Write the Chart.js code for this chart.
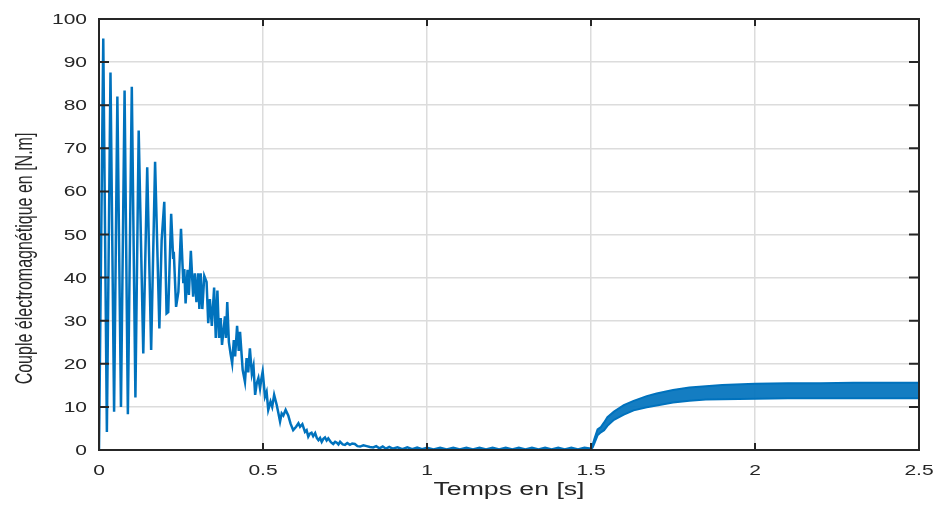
<!DOCTYPE html>
<html>
<head>
<meta charset="utf-8">
<script src="https://cdn.jsdelivr.net/npm/chart.js@4"></script>
<style>
  html, body { margin: 0; padding: 0; background: #fff; }
  #wrap { width: 939px; height: 507px; }
</style>
</head>
<body>
<div id="wrap"><canvas id="torqueChart"></canvas></div>
<script>
// ===== Data =====

// transient and decay, 0 .. 1.5 s
const timeMain = [
  0, 0.013, 0.024, 0.035, 0.046, 0.056, 0.067, 0.078, 0.088, 0.100,
  0.111, 0.121, 0.135, 0.147, 0.159, 0.171, 0.184, 0.191, 0.199, 0.206,
  0.211, 0.220, 0.226, 0.228, 0.235, 0.242, 0.250, 0.257, 0.260, 0.264,
  0.270, 0.274, 0.280, 0.287, 0.292, 0.297, 0.302, 0.306, 0.310, 0.315,
  0.321, 0.328, 0.333, 0.338, 0.344, 0.351, 0.356, 0.361, 0.366, 0.371,
  0.375, 0.384, 0.387, 0.391, 0.396, 0.401, 0.406, 0.411, 0.415, 0.421,
  0.426, 0.430, 0.438, 0.445, 0.450, 0.455, 0.460, 0.466, 0.471, 0.476,
  0.481, 0.486, 0.491, 0.495, 0.499, 0.506, 0.511, 0.516, 0.523, 0.528,
  0.534, 0.542, 0.547, 0.552, 0.557, 0.562, 0.569, 0.577, 0.584, 0.592,
  0.601, 0.608, 0.613, 0.620, 0.628, 0.633, 0.638, 0.643, 0.648, 0.653,
  0.659, 0.664, 0.669, 0.674, 0.679, 0.684, 0.689, 0.694, 0.699, 0.707,
  0.714, 0.720, 0.725, 0.730, 0.735, 0.743, 0.750, 0.757, 0.765, 0.772,
  0.780, 0.788, 0.796, 0.806, 0.816, 0.826, 0.836, 0.845, 0.855, 0.865,
  0.875, 0.885, 0.895, 0.910, 0.925, 0.940, 0.955, 0.970, 0.985, 1.000,
  1.02, 1.04, 1.06, 1.08, 1.10, 1.12, 1.14, 1.16, 1.18, 1.20,
  1.22, 1.24, 1.26, 1.28, 1.30, 1.32, 1.34, 1.36, 1.38, 1.40,
  1.42, 1.44, 1.46, 1.48, 1.50
];
const torqueMain = [
  0, 95.5, 4.2, 87.6, 8.9, 82.0, 10.0, 83.4, 8.3, 84.3,
  12.2, 74.1, 22.4, 65.6, 23.2, 66.9, 28.2, 48.7, 57.6, 31.7,
  32.0, 54.8, 44.6, 46.0, 33.2, 36.7, 51.3, 38.7, 42.0, 34.0,
  41.8, 36.0, 46.2, 35.6, 41.0, 34.3, 41.0, 32.7, 41.0, 32.7,
  40.4, 39.0, 29.4, 35.0, 28.8, 37.7, 26.0, 37.0, 26.0, 30.6,
  24.4, 31.0, 26.0, 34.3, 25.0, 22.4, 20.1, 25.5, 21.7, 28.8,
  23.0, 27.4, 18.6, 15.8, 21.3, 18.0, 23.6, 17.7, 19.5, 12.8,
  15.5, 16.7, 14.3, 16.5, 18.2, 12.4, 13.5, 9.3, 11.2, 10.0,
  12.8, 10.4, 8.5, 6.6, 8.5, 8.0, 9.3, 8.0, 6.1, 4.6,
  5.4, 6.2, 5.4, 6.0, 4.2, 4.6, 3.1, 3.8, 4.0, 3.2,
  3.9, 2.8, 2.3, 2.8, 1.9, 2.6, 2.9, 2.2, 2.7, 1.8,
  1.4, 1.9, 1.7, 1.3, 1.9, 1.3, 1.2, 1.6, 1.2, 1.5,
  1.4, 0.9, 0.8, 1.1, 0.9, 0.7, 0.6, 0.9, 0.4, 0.8,
  0.3, 0.7, 0.3, 0.6, 0.2, 0.6, 0.2, 0.55, 0.2, 0.5,
  0.15, 0.5, 0.15, 0.5, 0.15, 0.5, 0.15, 0.5, 0.15, 0.5,
  0.15, 0.5, 0.15, 0.5, 0.15, 0.5, 0.15, 0.5, 0.15, 0.5,
  0.15, 0.5, 0.15, 0.5, 0.3
];

// load applied at 1.5 s: dense ripple, kept as its upper / lower envelope
const timeBand  = [1.5, 1.505, 1.51, 1.52, 1.53, 1.54, 1.55, 1.57, 1.6, 1.63, 1.67, 1.7, 1.75, 1.8, 1.85, 1.9, 2.0, 2.1, 2.2, 2.3, 2.4, 2.5];
const torqueTop = [0.5, 1.2, 2.5, 4.8, 5.3, 6.4, 7.6, 8.9, 10.4, 11.4, 12.5, 13.1, 13.9, 14.5, 14.8, 15.1, 15.4, 15.5, 15.5, 15.6, 15.6, 15.6];
const torqueLow = [0.1, 0.6, 1.5, 3.4, 4.1, 4.6, 5.6, 7.0, 8.2, 9.2, 9.9, 10.3, 11.0, 11.4, 11.7, 11.8, 11.9, 12.0, 12.0, 12.0, 12.0, 12.0];

const xTicks = [0, 0.5, 1, 1.5, 2, 2.5];
const yTicks = [0, 10, 20, 30, 40, 50, 60, 70, 80, 90, 100];

const xTitle = "Temps en [s]";
const yTitle = "Couple électromagnétique en [N.m]";

// ===== Helpers =====

const LINE_BLUE = "#0072BD";
const AXIS_DARK = "#262626";

function toPoints(xs, ys) {
  return xs.map((t, i) => ({ x: t, y: ys[i] }));
}

// the reference text is stretched sideways, so draw it the same way
function drawStretched(ctx, text, px, py, align, sx) {
  ctx.save();
  ctx.translate(px, py);
  ctx.scale(sx, 1);
  ctx.textAlign = align;
  ctx.textBaseline = "alphabetic";
  ctx.fillText(text, 0, 0);
  ctx.restore();
}

// ===== Box, inward ticks and labels (MATLAB look) =====

const matlabAxes = {
  id: "matlabAxes",
  afterDatasetsDraw(chart) {
    const { ctx, chartArea: a, scales } = chart;
    const x = scales.x, y = scales.y;
    ctx.save();

    ctx.strokeStyle = AXIS_DARK;
    ctx.lineWidth = 2;
    ctx.strokeRect(a.left, a.top, a.right - a.left, a.bottom - a.top);

    ctx.beginPath();
    xTicks.forEach(v => {
      const px = x.getPixelForValue(v);
      ctx.moveTo(px, a.bottom); ctx.lineTo(px, a.bottom - 7);
      ctx.moveTo(px, a.top); ctx.lineTo(px, a.top + 7);
    });
    yTicks.forEach(v => {
      const py = y.getPixelForValue(v);
      ctx.moveTo(a.left, py); ctx.lineTo(a.left + 10, py);
      ctx.moveTo(a.right, py); ctx.lineTo(a.right - 10, py);
    });
    ctx.stroke();

    ctx.fillStyle = AXIS_DARK;
    ctx.font = '14px "Liberation Sans", Arial, sans-serif';
    xTicks.forEach(v => {
      drawStretched(ctx, String(v), x.getPixelForValue(v), a.bottom + 25, "center", 1.5);
    });
    yTicks.forEach(v => {
      drawStretched(ctx, String(v), a.left - 12, y.getPixelForValue(v) + 5, "right", 1.5);
    });

    ctx.font = '18px "Liberation Sans", Arial, sans-serif';
    drawStretched(ctx, xTitle, (a.left + a.right) / 2, a.bottom + 45, "center", 1.48);

    ctx.save();
    ctx.translate(32, (a.top + a.bottom) / 2 + 24);
    ctx.scale(1.48, 1);
    ctx.rotate(-Math.PI / 2);
    ctx.font = '16px "Liberation Sans", Arial, sans-serif';
    ctx.textAlign = "center";
    ctx.textBaseline = "alphabetic";
    ctx.fillText(yTitle, 0, 0);
    ctx.restore();

    ctx.restore();
  }
};

// ===== Chart =====

const ctx = document.getElementById("torqueChart").getContext("2d");
new Chart(ctx, {
  type: "line",
  data: {
    datasets: [
      {
        label: "Couple",
        data: toPoints(timeMain, torqueMain),
        borderColor: LINE_BLUE,
        borderWidth: 2.5,
        pointRadius: 0,
        tension: 0,
        fill: false
      },
      {
        label: "Couple (haut)",
        data: toPoints(timeBand, torqueTop),
        borderColor: LINE_BLUE,
        borderWidth: 2,
        pointRadius: 0,
        tension: 0,
        fill: false
      },
      {
        label: "Couple (bas)",
        data: toPoints(timeBand, torqueLow),
        borderColor: LINE_BLUE,
        borderWidth: 2,
        pointRadius: 0,
        tension: 0,
        fill: "-1",
        backgroundColor: "rgba(0,114,189,0.92)"
      }
    ]
  },
  options: {
    responsive: true,
    maintainAspectRatio: false,
    animation: false,
    layout: { padding: { top: 19, right: 20, left: 0, bottom: 0 } },
    plugins: {
      legend: { display: false },
      tooltip: { enabled: false }
    },
    scales: {
      x: {
        type: "linear",
        min: 0,
        max: 2.5,
        afterBuildTicks: (scale) => { scale.ticks = xTicks.map(v => ({ value: v })); },
        afterFit: (scale) => { scale.height = 57; },
        ticks: { display: false },
        border: { display: false },
        grid: { color: "#dcdcdc", lineWidth: 1.5, drawTicks: false }
      },
      y: {
        min: 0,
        max: 100,
        afterBuildTicks: (scale) => { scale.ticks = yTicks.map(v => ({ value: v })); },
        afterFit: (scale) => { scale.width = 99; },
        ticks: { display: false },
        border: { display: false },
        grid: { color: "#dcdcdc", lineWidth: 1.5, drawTicks: false }
      }
    }
  },
  plugins: [matlabAxes]
});
</script>
</body>
</html>
